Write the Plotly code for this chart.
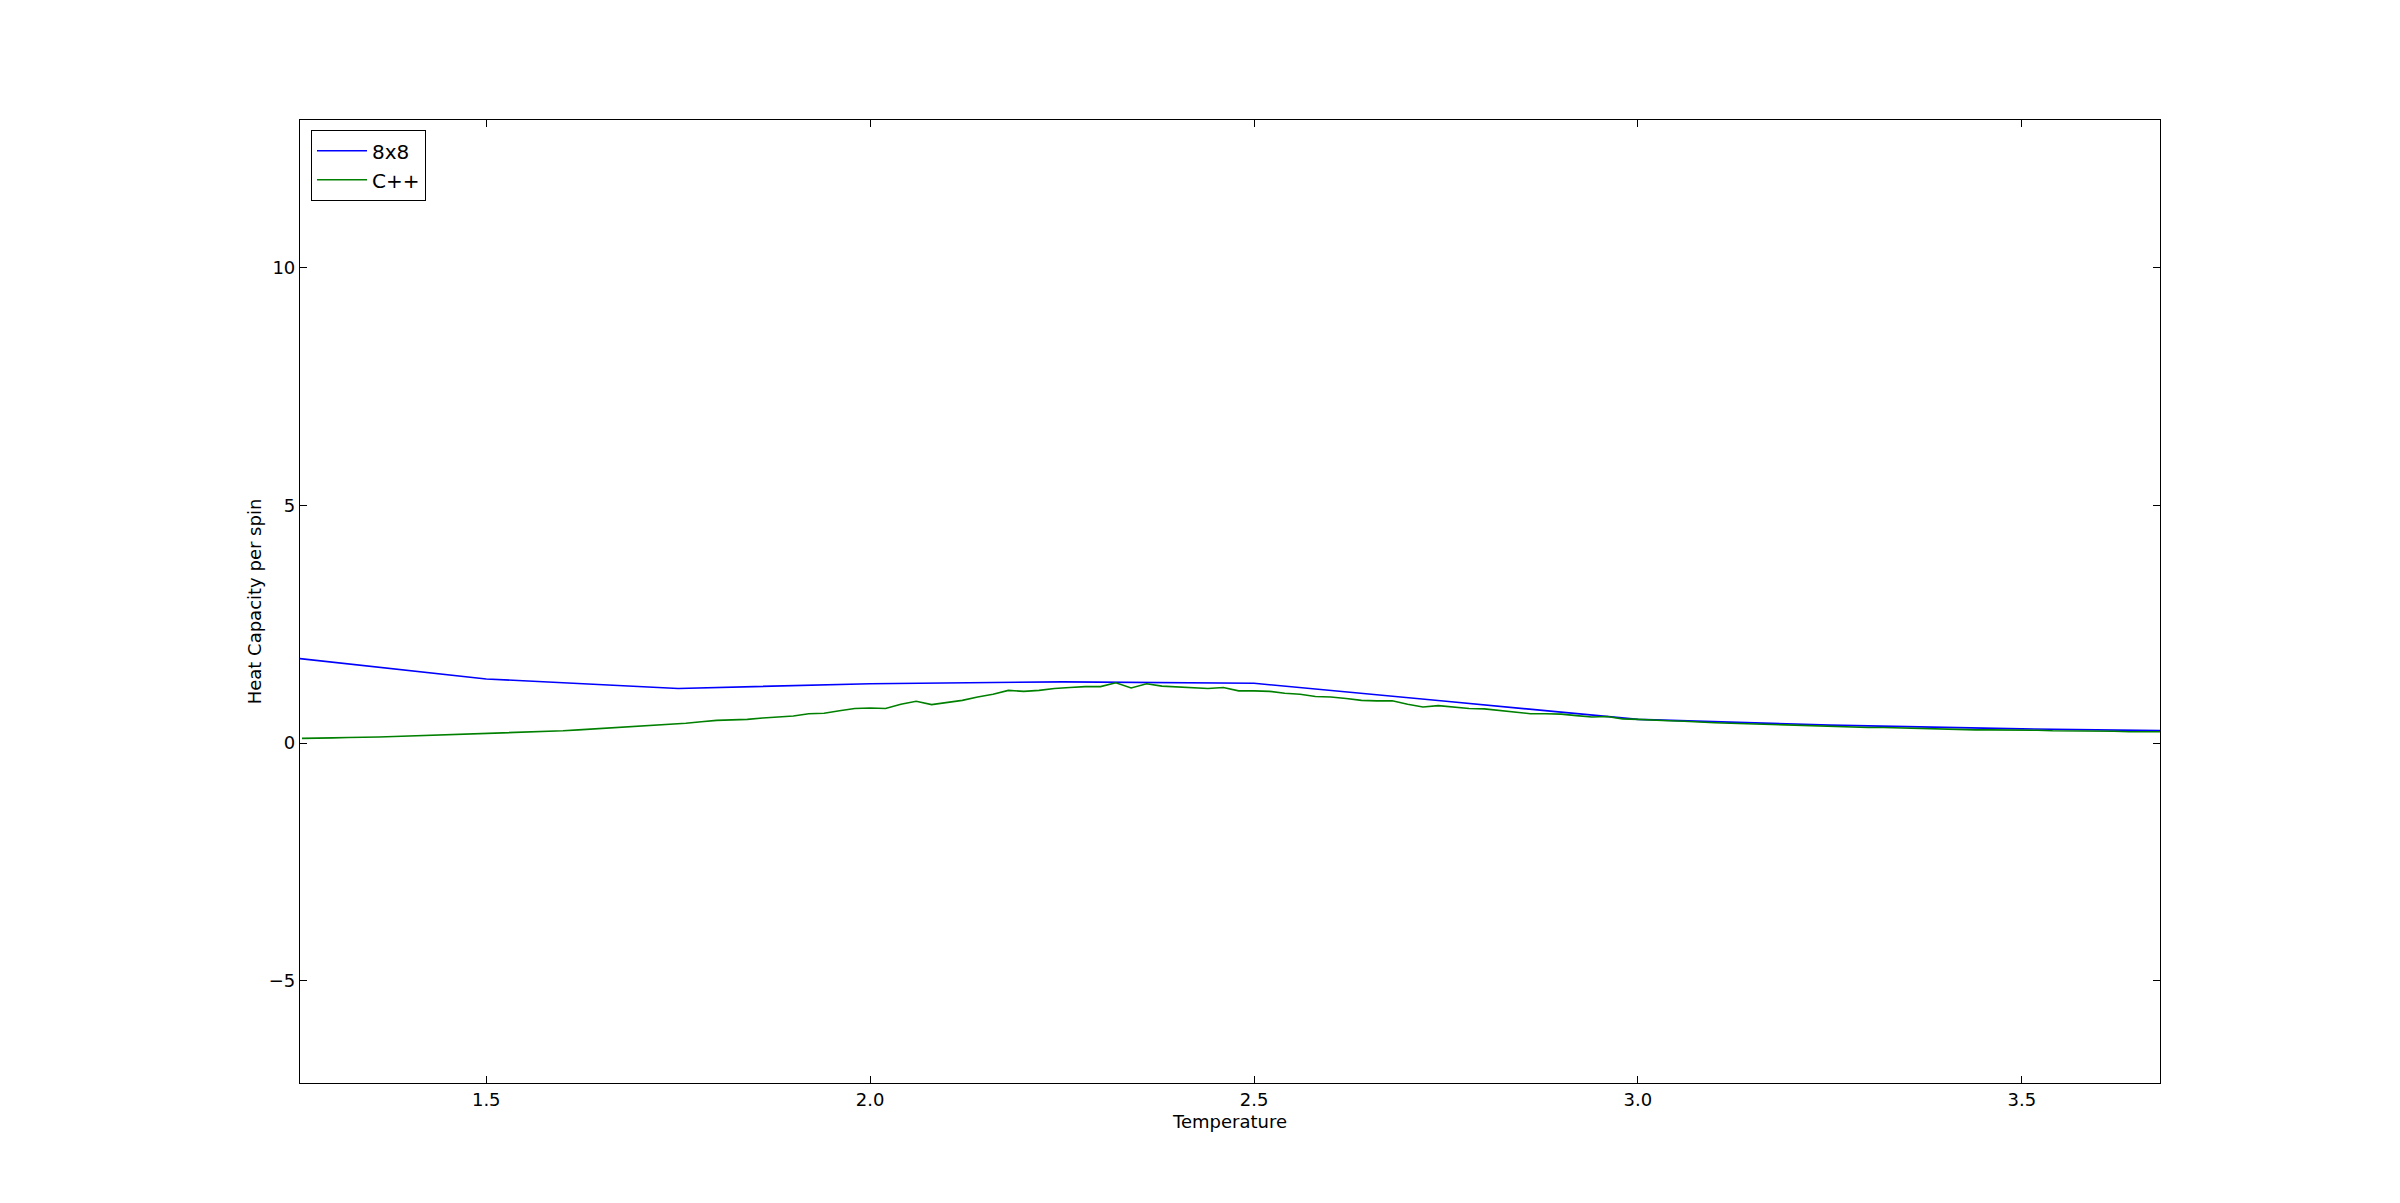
import plotly.graph_objects as go

# Blue series: 8x8 lattice
temp_8x8 = [1.25, 1.5, 1.75, 2.0, 2.25, 2.5, 2.75, 3.0, 3.25, 3.5, 3.75]
heat_8x8 = [1.79, 1.35, 1.15, 1.25, 1.29, 1.26, 0.88, 0.50, 0.38, 0.30, 0.25]

# Green series: C++
temp_cpp = [1.26, 1.28, 1.30, 1.32, 1.34, 1.36, 1.38, 1.40, 1.42, 1.44, 1.46, 1.48,
            1.50, 1.52, 1.54, 1.56, 1.58, 1.60, 1.62, 1.64, 1.66, 1.68, 1.70, 1.72,
            1.74, 1.76, 1.78, 1.80, 1.82, 1.84, 1.86, 1.88, 1.90, 1.92, 1.94, 1.96,
            1.98, 2.00, 2.02, 2.04, 2.06, 2.08, 2.10, 2.12, 2.14, 2.16, 2.18, 2.20,
            2.22, 2.24, 2.26, 2.28, 2.30, 2.32, 2.34, 2.36, 2.38, 2.40, 2.42, 2.44,
            2.46, 2.48, 2.50, 2.52, 2.54, 2.56, 2.58, 2.60, 2.62, 2.64, 2.66, 2.68,
            2.70, 2.72, 2.74, 2.76, 2.78, 2.80, 2.82, 2.84, 2.86, 2.88, 2.90, 2.92,
            2.94, 2.96, 2.98, 3.00, 3.02, 3.04, 3.06, 3.08, 3.10, 3.12, 3.14, 3.16,
            3.18, 3.20, 3.22, 3.24, 3.26, 3.28, 3.30, 3.32, 3.34, 3.36, 3.38, 3.40,
            3.42, 3.44, 3.46, 3.48, 3.50, 3.52, 3.54, 3.56, 3.58, 3.60, 3.62, 3.64,
            3.66, 3.68]
heat_cpp = [0.10, 0.10, 0.11, 0.12, 0.12, 0.13, 0.14, 0.15, 0.17, 0.17, 0.18, 0.19,
            0.20, 0.21, 0.22, 0.23, 0.25, 0.26, 0.28, 0.30, 0.32, 0.34, 0.35, 0.37,
            0.40, 0.42, 0.45, 0.48, 0.49, 0.50, 0.53, 0.55, 0.57, 0.62, 0.63, 0.68,
            0.73, 0.74, 0.73, 0.82, 0.88, 0.81, 0.86, 0.90, 0.97, 1.03, 1.11, 1.09,
            1.11, 1.15, 1.17, 1.19, 1.19, 1.27, 1.16, 1.25, 1.20, 1.18, 1.16, 1.15,
            1.17, 1.10, 1.10, 1.09, 1.05, 1.03, 0.98, 0.97, 0.94, 0.90, 0.89, 0.89,
            0.82, 0.76, 0.79, 0.76, 0.73, 0.72, 0.69, 0.66, 0.62, 0.62, 0.61, 0.58,
            0.55, 0.56, 0.51, 0.50, 0.48, 0.47, 0.46, 0.44, 0.43, 0.42, 0.41, 0.40,
            0.39, 0.38, 0.36, 0.36, 0.35, 0.34, 0.33, 0.33, 0.32, 0.31, 0.30, 0.30,
            0.29, 0.28, 0.28, 0.28, 0.27, 0.27, 0.26, 0.26, 0.25, 0.25, 0.25, 0.24,
            0.24, 0.24]

x_ticks = [1.5, 2.0, 2.5, 3.0, 3.5]
x_tick_labels = ["1.5", "2.0", "2.5", "3.0", "3.5"]
y_ticks = [-5, 0, 5, 10]
y_tick_labels = ["\u22125", "0", "5", "10"]

FONT = "DejaVu Sans"

fig = go.Figure()
fig.add_trace(go.Scatter(x=temp_8x8, y=heat_8x8, mode="lines", name="8x8",
                         line=dict(color="#0000ff", width=1.6)))
fig.add_trace(go.Scatter(x=temp_cpp, y=heat_cpp, mode="lines", name="C++",
                         line=dict(color="#008000", width=1.6)))

axis_common = dict(showline=True, linecolor="black", linewidth=1.2, mirror="ticks",
                   ticks="inside", ticklen=7, tickwidth=1, tickcolor="black",
                   showgrid=False, zeroline=False,
                   tickfont=dict(family=FONT, size=18, color="black"),
                   title_font=dict(family=FONT, size=18, color="black"))

fig.update_xaxes(range=[1.2574, 3.680], tickvals=x_ticks, ticktext=x_tick_labels,
                 title_text="Temperature", title_standoff=6, **axis_common)
fig.update_yaxes(range=[-7.15, 13.11], tickvals=y_ticks, ticktext=y_tick_labels,
                 title_text="Heat Capacity per spin", title_standoff=2, **axis_common)

fig.update_layout(
    width=2400, height=1203, autosize=False,
    margin=dict(l=292, r=248, t=112, b=128, pad=0),
    plot_bgcolor="white", paper_bgcolor="white",
    font=dict(family=FONT, size=18, color="black"),
    legend=dict(x=0.0058, y=0.9896, xanchor="left", yanchor="top",
                bordercolor="black", borderwidth=1.2, bgcolor="white",
                font=dict(family=FONT, size=20, color="black"),
                itemwidth=50, tracegroupgap=0),
    showlegend=True,
)

fig.write_html("out.html")
